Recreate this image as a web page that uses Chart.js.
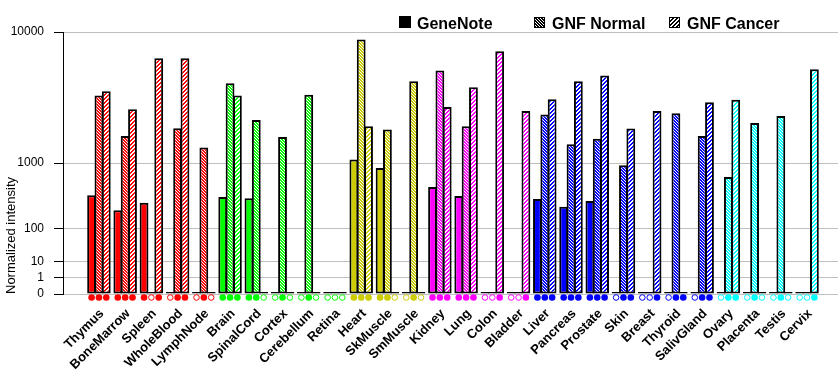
<!DOCTYPE html>
<html>
<head>
<meta charset="utf-8">
<script src="https://cdn.jsdelivr.net/npm/chart.js@4.4.0/dist/chart.umd.min.js"></script>
<style>
  html, body { margin: 0; padding: 0; background: #fff; }
  #wrap { width: 840px; height: 385px; }
</style>
</head>
<body>
<div id="wrap"><canvas id="chart"></canvas></div>
<script>
// Valeurs (0 = pas de barre)
const categories = ['Thymus', 'BoneMarrow', 'Spleen', 'WholeBlood', 'LymphNode', 'Brain', 'SpinalCord',
  'Cortex', 'Cerebellum', 'Retina', 'Heart', 'SkMuscle', 'SmMuscle', 'Kidney', 'Lung', 'Colon',
  'Bladder', 'Liver', 'Pancreas', 'Prostate', 'Skin', 'Breast', 'Thyroid', 'SalivGland', 'Ovary',
  'Placenta', 'Testis', 'Cervix'];
const geneNote  = [390, 227, 300, 0, 0, 370, 354, 0, 0, 0, 1090, 880, 0, 512, 382, 0,
  0, 345, 258, 321, 0, 0, 0, 0, 0, 0, 0, 0];
const gnfNormal = [3980, 1860, 0, 2190, 1450, 4860, 2570, 1820, 4030, 0, 9070, 2130, 5010, 5900, 2270, 0,
  0, 2850, 1560, 1760, 943, 0, 2920, 1860, 688, 2420, 2770, 0];
const gnfCancer = [4270, 3140, 7040, 7040, 0, 3980, 0, 0, 0, 0, 2270, 0, 0, 3260, 4560, 7760,
  3030, 3740, 5010, 5470, 2170, 3030, 0, 3550, 3700, 0, 0, 6010];
// marqueurs sous l'axe : 1 = plein, 0 = vide
const geneNotePresent  = [1,1,1,0,0,1,1,0,0,0,1,1,0,1,1,0,0,1,1,1,0,0,0,0,0,0,0,0];
const gnfNormalPresent = [1,1,0,1,1,1,1,1,1,0,1,1,1,1,1,0,0,1,1,1,1,0,1,1,1,1,1,0];
const gnfCancerPresent = [1,1,1,1,0,1,0,0,0,0,1,0,0,1,1,1,1,1,1,1,1,1,1,1,1,0,0,1];
const yTicks = [0, 1, 10, 100, 1000, 10000];

// couleur de chaque groupe de tissus
const tissueColors = [
  '#ff0000', '#ff0000', '#ff0000', '#ff0000', '#ff0000',
  '#00ff00', '#00ff00', '#00ff00', '#00ff00', '#00ff00',
  '#cccc00', '#cccc00', '#cccc00',
  '#ff00ff', '#ff00ff', '#ff00ff', '#ff00ff',
  '#0000ff', '#0000ff', '#0000ff', '#0000ff', '#0000ff', '#0000ff', '#0000ff',
  '#00ffff', '#00ffff', '#00ffff', '#00ffff'
];

// axe "compressé" : chaque décade prend deux fois plus de place que la précédente
const pw = Math.log10(2);
const tf = v => (v > 0 ? Math.pow(v, pw) : 0);

Chart.defaults.font.family = '"Liberation Sans", Arial, sans-serif';
Chart.defaults.color = '#000';

// motifs hachurés
function makePattern(color, kind) {
  const n = kind === 'normal' ? 3 : 4;
  const c = document.createElement('canvas');
  c.width = n; c.height = n;
  const g = c.getContext('2d');
  g.fillStyle = color;
  g.fillRect(0, 0, n, n);
  g.fillStyle = '#fff';
  for (let x = 0; x < n; x++) {
    for (let y = 0; y < n; y++) {
      const on = kind === 'normal' ? (x - y + n) % n === 0 : (x + y) % n < 2;
      if (on) g.fillRect(x, y, 1, 1);
    }
  }
  return g.createPattern(c, 'repeat');
}

const toPoints = arr => arr.map((v, i) => ({ x: i, y: tf(v) }));

const barStyle = {
  borderColor: '#000',
  borderWidth: 2,
  borderSkipped: false,
  minBarLength: 2,
  categoryPercentage: 0.84,
  barPercentage: 1.2
};

// petits ronds sous chaque barre
const markerPlugin = {
  id: 'markers',
  afterDatasetsDraw(chart) {
    const ctx = chart.ctx;
    const y = chart.chartArea.bottom + 3.5;
    ctx.save();
    chart.data.datasets.forEach((ds, di) => {
      chart.getDatasetMeta(di).data.forEach((bar, i) => {
        ctx.beginPath();
        if (ds.present[i]) {
          ctx.arc(bar.x, y, 3.3, 0, Math.PI * 2);
          ctx.fillStyle = tissueColors[i];
          ctx.fill();
        } else {
          ctx.arc(bar.x, y, 2.8, 0, Math.PI * 2);
          ctx.fillStyle = '#fff';
          ctx.fill();
          ctx.lineWidth = 1;
          ctx.strokeStyle = tissueColors[i];
          ctx.stroke();
        }
      });
    });
    ctx.restore();
  }
};

// légende en haut à droite
const legendPlugin = {
  id: 'topLegend',
  afterDraw(chart) {
    const ctx = chart.ctx;
    const fills = ['#000', makePattern('#000', 'normal'), makePattern('#000', 'cancer')];
    ctx.save();
    ctx.font = 'bold 16px "Liberation Sans", Arial, sans-serif';
    ctx.textBaseline = 'alphabetic';
    chart.data.datasets.forEach((ds, k) => {
      const x = 399 + k * 135;
      if (k === 0) {
        ctx.fillStyle = '#000';
        ctx.fillRect(x, 16, 12, 12);
      } else {
        ctx.fillStyle = fills[k];
        ctx.fillRect(x, 17, 11, 11);
        ctx.strokeStyle = '#000';
        ctx.lineWidth = 1;
        ctx.strokeRect(x + 0.5, 17.5, 10, 10);
      }
      ctx.fillStyle = '#000';
      ctx.fillText(ds.label, x + 18, 29);
    });
    ctx.restore();
  }
};

new Chart(document.getElementById('chart'), {
  type: 'bar',
  data: {
    datasets: [
      Object.assign({ label: 'GeneNote', data: toPoints(geneNote),
        backgroundColor: tissueColors, present: geneNotePresent }, barStyle),
      Object.assign({ label: 'GNF Normal', data: toPoints(gnfNormal),
        backgroundColor: tissueColors.map(c => makePattern(c, 'normal')), present: gnfNormalPresent }, barStyle),
      Object.assign({ label: 'GNF Cancer', data: toPoints(gnfCancer),
        backgroundColor: tissueColors.map(c => makePattern(c, 'cancer')), present: gnfCancerPresent }, barStyle)
    ]
  },
  options: {
    responsive: true,
    maintainAspectRatio: false,
    animation: false,
    layout: { padding: { top: 32, right: 2, left: 0, bottom: 0 } },
    plugins: {
      legend: { display: false },
      tooltip: { enabled: false }
    },
    scales: {
      x: {
        type: 'linear',
        min: -1.37,
        max: 28.18,
        offset: false,
        grid: { display: false, drawTicks: false },
        border: { display: false },
        afterBuildTicks: s => { s.ticks = categories.map((_, i) => ({ value: i })); },
        afterFit: s => { s.height = 91; },
        ticks: {
          autoSkip: false,
          maxRotation: 45,
          minRotation: 45,
          padding: 12,
          labelOffset: 3,
          font: { size: 13, weight: 'bold' },
          callback: v => categories[v]
        }
      },
      y: {
        min: 0,
        max: 16,
        afterBuildTicks: s => { s.ticks = yTicks.map(v => ({ value: tf(v) })); },
        afterFit: s => { s.width = 63; },
        grid: { color: '#c0c0c0', tickColor: '#000', tickLength: 9, lineWidth: 1 },
        border: { color: '#000', width: 1 },
        ticks: {
          padding: 10,
          font: { size: 12 },
          callback: (v, i) => String(yTicks[i])
        },
        title: {
          display: true,
          text: 'Normalized intensity',
          align: 'start',
          font: { size: 13 },
          padding: { top: 4, bottom: 0 }
        }
      }
    }
  },
  plugins: [markerPlugin, legendPlugin]
});
</script>
</body>
</html>
